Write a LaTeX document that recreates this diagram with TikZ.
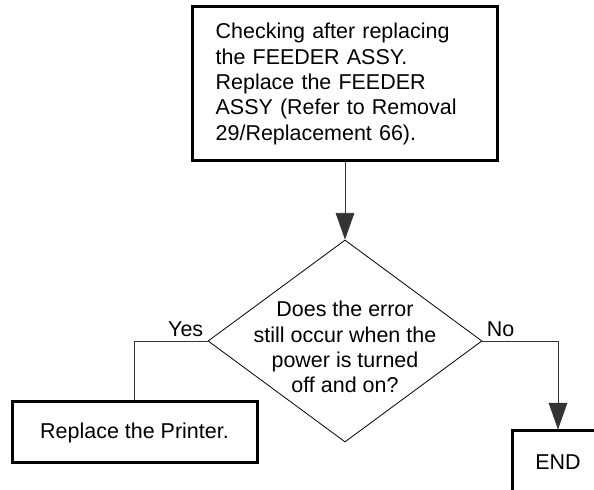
\documentclass[tikz,border=0pt]{standalone}
\usepackage{fontspec}
\setmainfont{Liberation Sans}
\usetikzlibrary{arrows.meta,shapes.geometric}
\tikzset{
  stepbox/.style={draw, line width=2.25pt, fill=white, inner sep=0pt},
  decision/.style={draw, shape=diamond, line width=0.6pt, inner sep=0pt,
    minimum width=205.5pt, minimum height=151.5pt},
  flow/.style={line width=0.6pt, draw=black!80},
  flowarrow/.style={flow, -{Triangle[length=20pt,width=14pt]}},
  branch/.style={inner sep=3pt}}
\newcommand{\boxfont}{\fontsize{16.1}{19}\selectfont}

\begin{document}
\begin{tikzpicture}[x=0.75pt, y=0.75pt, font=\boxfont]
  \clip (0,0) rectangle (594,490);
  % boxes
  \node[stepbox, minimum width=228.75pt, minimum height=115.5pt,
        text width=194pt, align=left] (check) at (345,406)
    {Checking after replacing\\the FEEDER ASSY.\\Replace the FEEDER\\ASSY (Refer to Removal\\29/Replacement 66).};
  \node[decision, label={[align=center, yshift=-4.5pt]center:Does the error\\still occur when the\\power is turned\\off and on?}]
    (ask) at (345,149) {};
  \node[stepbox, minimum width=183.75pt, minimum height=45.75pt] (printer) at (134.5,57.5)
    {Replace the Printer.};
  \node[stepbox, minimum width=69pt, minimum height=46.5pt] (finish) at (558,28) {END};
  % connectors
  \draw[flowarrow] (check) -- (ask.north);
  \draw[flow] (ask.west) -| node[branch, pos=0, above left] {Yes} (printer.north);
  \draw[flowarrow] (ask.east) -| node[branch, pos=0, above right] {No} (finish.north);
\end{tikzpicture}
\end{document}
